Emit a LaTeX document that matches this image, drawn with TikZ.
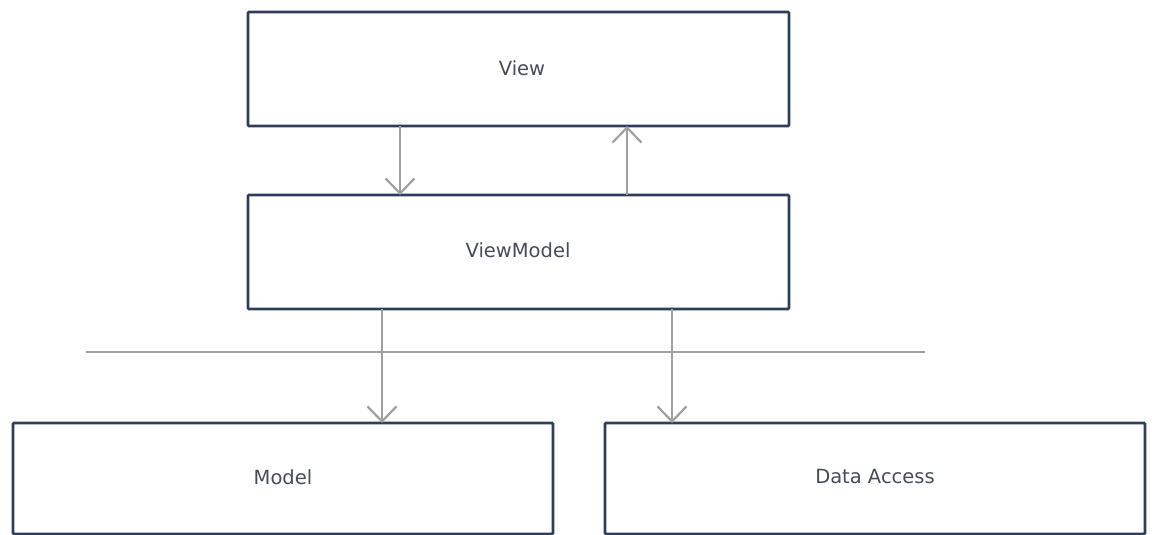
\documentclass[tikz,border=0pt]{standalone}
\usepackage{fontspec}
\setmainfont{DejaVu Sans}
\usetikzlibrary{arrows.meta}
\definecolor{boxline}{HTML}{2E3D5C}
\definecolor{boxtext}{HTML}{464C5C}
\definecolor{linkgray}{HTML}{A0A0A0}
\begin{document}
\begin{tikzpicture}[x=1pt,y=-1pt,
  layer/.style={draw=boxline,line width=2.6pt,fill=white,rounded corners=1pt},
  label/.style={text=boxtext,font=\fontsize{19.5}{22}\selectfont},
  link/.style={draw=linkgray,line width=2.2pt,
    -{Straight Barb[length=15pt,width=29pt,line width=2.2pt]}}]
\useasboundingbox (0,0) rectangle (1152,535);
% layers
\draw[layer] (248,12) rectangle (789,126);
\node[label] (view) at (522,68) {View};
\draw[layer] (248,195) rectangle (789,309);
\node[label] (vm) at (518,250) {ViewModel};
\draw[layer] (13,423) rectangle (553,534);
\node[label] (model) at (283,477) {Model};
\draw[layer] (605,423) rectangle (1145,534);
\node[label] (data) at (875,477) {Data Access};
% anchor points on the box edges
\coordinate (viewB1) at (400,126);
\coordinate (viewB2) at (627,126);
\coordinate (vmT1) at (400,195);
\coordinate (vmT2) at (627,195);
\coordinate (vmB1) at (382,309);
\coordinate (vmB2) at (672,309);
\coordinate (modelT) at (382,423);
\coordinate (dataT) at (672,423);
\coordinate (sepL) at (86,352);
\coordinate (sepR) at (925,352);
% separator
\draw[draw=linkgray,line width=2.4pt] (sepL) -- (sepR);
% connectors
\draw[link] (viewB1) -- (vmT1);
\draw[link] (vmT2) -- (viewB2);
\draw[link] (vmB1) -- (modelT);
\draw[link] (vmB2) -- (dataT);
\end{tikzpicture}
\end{document}
